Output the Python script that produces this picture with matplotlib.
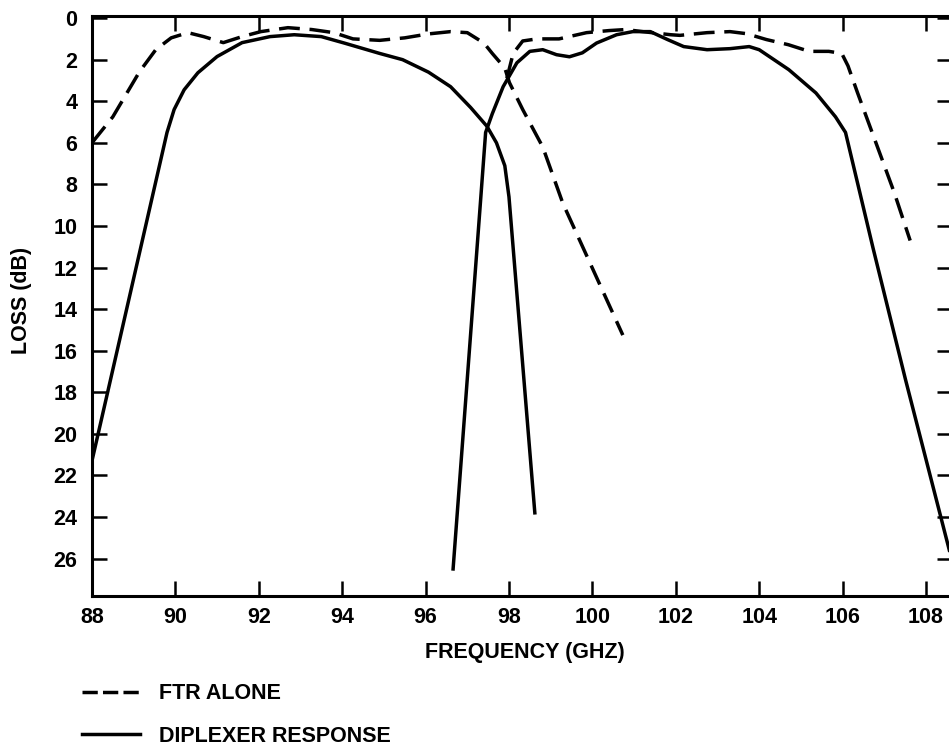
import matplotlib
matplotlib.use("Agg")
import matplotlib.pyplot as plt
from matplotlib.lines import Line2D

# ---------------- data ----------------
ftr_low_f = [88.0, 88.5, 89.14, 89.53, 89.9, 90.3, 90.68, 91.15, 91.6, 92.05, 92.7,
             93.27, 93.8, 94.26, 94.9, 95.5, 96.07, 96.6, 97.0, 97.4, 97.6, 97.9,
             98.01, 98.33, 98.81, 99.29, 100.73]
ftr_low_db = [6.0, 4.75, 2.58, 1.52, 0.95, 0.7, 0.89, 1.18, 0.89, 0.65, 0.46,
              0.55, 0.7, 1.0, 1.07, 0.95, 0.76, 0.65, 0.7, 1.2, 1.7, 2.4,
              3.1, 4.4, 6.2, 8.9, 15.25]

ftr_high_f = [97.95, 98.1, 98.33, 98.67, 99.2, 99.86, 100.4, 100.8, 101.2, 101.88,
              102.1, 102.75, 103.3, 103.7, 104.17, 104.7, 105.2, 105.67, 105.98,
              106.13, 106.36, 106.8, 107.24, 107.62]
ftr_high_db = [2.9, 1.7, 1.1, 1.0, 1.0, 0.7, 0.6, 0.55, 0.65, 0.8,
               0.83, 0.7, 0.65, 0.75, 1.03, 1.28, 1.6, 1.6, 1.7,
               2.3, 3.6, 6.0, 8.4, 10.7]

dip_low_f = [88.0, 89.8, 89.97, 90.21, 90.54, 91.0, 91.6,
             92.27, 92.85, 93.5, 94.05, 94.9, 95.45, 96.07, 96.6, 97.08, 97.47,
             97.7, 97.9, 98.0, 98.62]
dip_low_db = [21.3, 5.5, 4.4, 3.45, 2.63, 1.85, 1.18,
              0.89, 0.8, 0.89, 1.2, 1.7, 2.0, 2.6, 3.3, 4.3, 5.2,
              6.0, 7.1, 8.6, 23.8]

dip_high_f = [96.66, 97.32, 97.44, 97.6, 97.86, 98.19, 98.5, 98.81, 99.14, 99.45,
              99.76, 100.1, 100.58, 100.97, 101.39, 101.8, 102.19, 102.75, 103.3,
              103.76, 104.0, 104.71, 105.36, 105.83, 106.07, 106.73, 107.51, 108.56]
dip_high_db = [26.5, 8.75, 5.5, 4.6, 3.3, 2.15, 1.6, 1.52, 1.76, 1.86,
               1.67, 1.2, 0.8, 0.65, 0.65, 1.03, 1.37, 1.52, 1.47,
               1.37, 1.52, 2.48, 3.6, 4.75, 5.5, 11.06, 17.4, 25.6]

x_ticks = [88, 90, 92, 94, 96, 98, 100, 102, 104, 106, 108]
y_ticks = [0, 2, 4, 6, 8, 10, 12, 14, 16, 18, 20, 22, 24, 26]

legend_labels = ["FTR ALONE", "DIPLEXER RESPONSE"]
x_label = "FREQUENCY (GHZ)"
y_label = "LOSS (dB)"

# ---------------- style ----------------
plt.rcParams['font.family'] = ['Liberation Sans', 'DejaVu Sans']
plt.rcParams['font.weight'] = 'bold'
FS = 15.5
LW = 2.5
DASH = (6, 2.8)

fig = plt.figure(figsize=(9.49, 7.49), dpi=100)
ax = fig.add_axes([0.0969, 0.2043, 1.003 - 0.0969, 0.9786 - 0.2043])

ax.plot(ftr_low_f, ftr_low_db, color='black', lw=LW, dashes=DASH)
ax.plot(ftr_high_f, ftr_high_db, color='black', lw=LW, dashes=DASH)
ax.plot(dip_low_f, dip_low_db, color='black', lw=LW, solid_joinstyle='round')
ax.plot(dip_high_f, dip_high_db, color='black', lw=LW, solid_joinstyle='round')

ax.set_xlim(88, 108.62)
ax.set_ylim(27.8, -0.1)
ax.set_xticks(x_ticks)
ax.set_yticks(y_ticks)
ax.set_xticklabels([str(v) for v in x_ticks], fontsize=FS, fontweight='bold')
ax.set_yticklabels([str(v) for v in y_ticks], fontsize=FS, fontweight='bold')

ax.tick_params(axis='both', direction='in', length=11, width=1.8,
               top=True, right=True, color='black')
ax.tick_params(axis='x', pad=8.0)
ax.tick_params(axis='y', pad=10.5)

for s in ax.spines.values():
    s.set_linewidth(2.2)
    s.set_color('black')

ax.set_xlabel(x_label, fontsize=FS, fontweight='bold')
ax.xaxis.set_label_coords(0.503, -0.079)
ax.set_ylabel(y_label, fontsize=FS, fontweight='bold')
ax.yaxis.set_label_coords(-0.0698, 0.51)

h_ftr = Line2D([], [], color='black', lw=LW, dashes=(4.4, 1.5))
h_dip = Line2D([], [], color='black', lw=LW)
fig.legend([h_ftr, h_dip], legend_labels, loc='upper left',
           bbox_to_anchor=(0.0864, 0.0875), frameon=False,
           prop={'size': FS, 'weight': 'bold'},
           handlelength=2.7, handletextpad=0.9, labelspacing=1.0,
           borderpad=0, borderaxespad=0)

fig.savefig("out.png", dpi=100, facecolor='white')
